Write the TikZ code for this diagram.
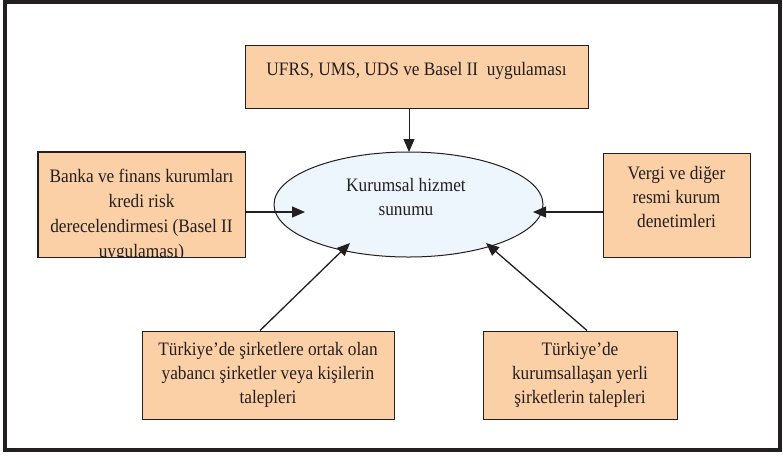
\documentclass[tikz,border=0pt]{standalone}
\usepackage{fontspec}
\setmainfont{Liberation Serif}[FakeStretch=0.91]
\usetikzlibrary{shapes.geometric,arrows.meta}
\definecolor{peach}{RGB}{252,208,166}
\definecolor{paleblue}{RGB}{238,246,253}
\definecolor{ink}{RGB}{35,31,32}
\tikzset{
  box/.style={draw=ink, line width=1pt, fill=peach, inner sep=0pt},
  txt/.style={text=ink, align=center, inner sep=0pt, font=\fontsize{19}{24}\selectfont},
  arr/.style={draw=ink, line width=1.3pt, -{Triangle[length=13pt,width=11pt]}},
}
\begin{document}
\begin{tikzpicture}[x=1pt,y=-1pt]
\useasboundingbox (0,0) rectangle (783,456);
\fill[white] (0,0) rectangle (783,456);
\draw[ink, line width=4.5pt] (5,1.5) rectangle (780,450);

% boxes
\node[box, minimum width=343pt, minimum height=63pt] (T) at (416.5,76.5) {};
\node[txt] (Tt) at (416.5,71) {UFRS, UMS, UDS ve Basel II\ \ uygulaması};

\node[box, minimum width=207pt, minimum height=105pt] (L) at (141.5,204.5) {};
\begin{scope}
\clip (L.south west) rectangle (L.north east);
\node[txt, font=\fontsize{19}{25}\selectfont] (Lt) at (141.5,215.5) {Banka ve finans kurumları\\kredi risk\\derecelendirmesi (Basel II\\uygulaması)};
\end{scope}
\draw[ink, line width=1pt] (L.south west) rectangle (L.north east);

\node[box, minimum width=147pt, minimum height=104pt] (R) at (676.5,205) {};
\node[txt] (Rt) at (676.5,197) {Vergi ve diğer\\resmi kurum\\denetimleri};

\node[box, minimum width=252pt, minimum height=88pt] (BL) at (268,375) {};
\node[txt] (BLt) at (268,375) {Türkiye’de şirketlere ortak olan\\yabancı şirketler veya kişilerin\\talepleri};

\node[box, minimum width=194pt, minimum height=88pt] (BR) at (580,375) {};
\node[txt] (BRt) at (580,375) {Türkiye’de\\kurumsallaşan yerli\\şirketlerin talepleri};

% ellipse
\node[ellipse, draw=ink, line width=1pt, fill=paleblue, minimum width=269pt, minimum height=105pt, inner sep=0pt] (E) at (408.5,204.5) {};
\node[txt] (Et) at (406,196.5) {Kurumsal hizmet\\sunumu};

% tips
\coordinate (tipT) at (409,152);
\coordinate (tipL) at (305,212);
\coordinate (tipR) at (533,212);
\coordinate (tipBL) at (350,243);
\coordinate (tipBR) at (486,243);

\draw[arr, line width=1pt] (409,0 |- T.south) -- (tipT);
\draw[arr] (L.east |- tipL) -- (tipL);
\draw[arr] (R.west |- tipR) -- (tipR);
\draw[arr] (260,0 |- BL.north) -- (tipBL);
\draw[arr] (587,0 |- BR.north) -- (tipBR);
\end{tikzpicture}
\end{document}
